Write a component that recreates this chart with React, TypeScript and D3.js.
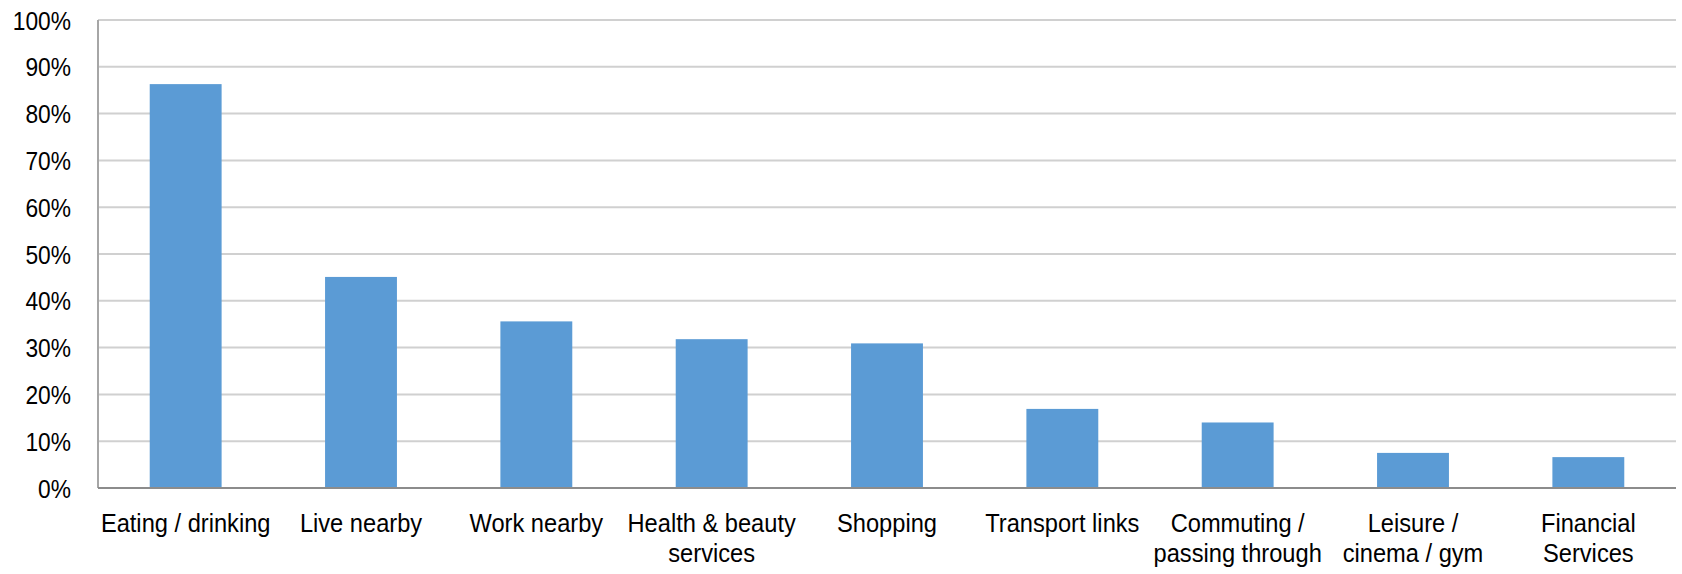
import React from "react";
import * as d3 from "d3";

const categories = [
  "Eating / drinking",
  "Live nearby",
  "Work nearby",
  "Health & beauty\nservices",
  "Shopping",
  "Transport links",
  "Commuting /\npassing through",
  "Leisure /\ncinema / gym",
  "Financial\nServices",
];
const values = [0.863, 0.451, 0.356, 0.318, 0.309, 0.169, 0.14, 0.075, 0.066];
const yTicks = [0, 0.1, 0.2, 0.3, 0.4, 0.5, 0.6, 0.7, 0.8, 0.9, 1.0];

const W = 1682;
const H = 574;
const M = { left: 98, right: 6, top: 20, bottom: 86 };

export default function App() {
  const x = d3
    .scaleBand<string>()
    .domain(categories)
    .range([M.left, W - M.right])
    .paddingInner(0.59)
    .paddingOuter(0.295);
  const y = d3.scaleLinear().domain([0, 1]).range([H - M.bottom, M.top]);
  const fmt = d3.format(".0%");
  const font = "'Liberation Sans', Arial, sans-serif";
  const bandCenter = (c: string) => (x(c) as number) + x.bandwidth() / 2;

  return (
    <svg
      width={W}
      height={H}
      style={{ position: "absolute", left: 0, top: 0, background: "#fff" }}
    >
      {yTicks.map((t) => (
        <line
          key={"g" + t}
          x1={M.left}
          x2={W - M.right}
          y1={y(t)}
          y2={y(t)}
          stroke="#d0d0d0"
          strokeWidth={2}
        />
      ))}
      {categories.map((c, i) => (
        <rect
          key={c}
          x={x(c)}
          y={y(values[i])}
          width={x.bandwidth()}
          height={y(0) - y(values[i])}
          fill="#5b9bd5"
        />
      ))}
      <line
        x1={M.left}
        x2={M.left}
        y1={M.top}
        y2={y(0)}
        stroke="#a6a6a6"
        strokeWidth={2}
      />
      <line
        x1={M.left}
        x2={W - M.right}
        y1={y(0)}
        y2={y(0)}
        stroke="#8c8c8c"
        strokeWidth={2}
      />
      {yTicks.map((t) => (
        <text
          key={"t" + t}
          transform={`translate(71,${y(t) + 9.5}) scale(0.86,1)`}
          textAnchor="end"
          fontFamily={font}
          fontSize={26.5}
          fill="#000"
        >
          {fmt(t)}
        </text>
      ))}
      {categories.map((c) => (
        <g key={"l" + c} transform={`translate(${bandCenter(c)},532) scale(0.91,1)`}>
          {c.split("\n").map((line, j) => (
            <text
              key={j}
              y={j * 30}
              textAnchor="middle"
              fontFamily={font}
              fontSize={26}
              fill="#000"
            >
              {line}
            </text>
          ))}
        </g>
      ))}
    </svg>
  );
}
